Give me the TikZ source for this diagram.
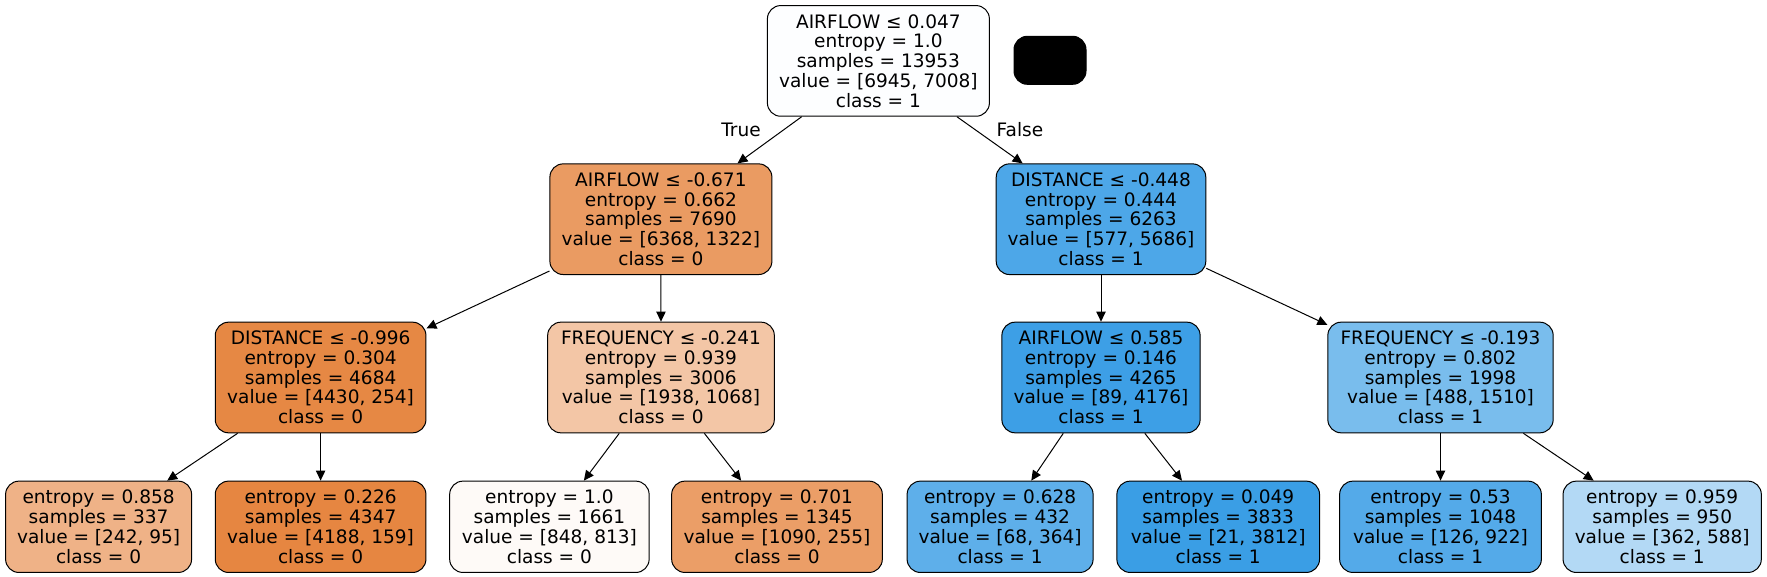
\documentclass[tikz,border=0pt]{standalone}
\usepackage{fontspec}
\setmainfont{DejaVu Sans}
\usetikzlibrary{arrows.meta}
\definecolor{cR}{RGB}{253,254,255}
\definecolor{cA}{RGB}{234,155,98}
\definecolor{cB}{RGB}{77,167,232}
\definecolor{cC}{RGB}{230,136,68}
\definecolor{cD}{RGB}{243,198,166}
\definecolor{cE}{RGB}{61,159,230}
\definecolor{cF}{RGB}{121,189,237}
\definecolor{cL1}{RGB}{239,178,135}
\definecolor{cL2}{RGB}{230,134,65}
\definecolor{cL3}{RGB}{254,250,247}
\definecolor{cL4}{RGB}{235,158,103}
\definecolor{cL5}{RGB}{94,175,234}
\definecolor{cL6}{RGB}{58,158,229}
\definecolor{cL7}{RGB}{84,170,233}
\definecolor{cL8}{RGB}{179,217,245}
\tikzset{
  tn/.style={draw, rounded corners=10pt, line width=0.75pt, inner sep=0pt, align=center,
    font=\fontsize{13.9}{14.8}\selectfont, minimum height=83pt},
  lf/.style={tn, minimum height=68.5pt},
  ed/.style={-{Triangle[length=7.5pt,width=7pt]}, line width=0.75pt},
  el/.style={font=\fontsize{13.9}{14.8}\selectfont, inner sep=0pt}
}
\begin{document}
\begin{tikzpicture}[x=0.75pt,y=-0.75pt]
\useasboundingbox (0,0) rectangle (1767,577);
% level 0
\node[tn, fill=cR, minimum width=166.5pt] (r) at (878.4,60.9)
  {AIRFLOW ≤ 0.047\\entropy = 1.0\\samples = 13953\\value = [6945, 7008]\\class = 1};
\node[draw, fill=black, rounded corners=10pt, line width=0.75pt, minimum width=54pt, minimum height=36pt, inner sep=0pt] (bk) at (1050,60.3) {};
% level 1
\node[tn, fill=cA, minimum width=166.5pt] (a) at (660.9,219.2)
  {AIRFLOW ≤ -0.671\\entropy = 0.662\\samples = 7690\\value = [6368, 1322]\\class = 0};
\node[tn, fill=cB, minimum width=157.2pt] (b) at (1101,219.2)
  {DISTANCE ≤ -0.448\\entropy = 0.444\\samples = 6263\\value = [577, 5686]\\class = 1};
% level 2
\node[tn, fill=cC, minimum width=158pt] (c) at (320.6,377.5)
  {DISTANCE ≤ -0.996\\entropy = 0.304\\samples = 4684\\value = [4430, 254]\\class = 0};
\node[tn, fill=cD, minimum width=170pt] (d) at (661,377.5)
  {FREQUENCY ≤ -0.241\\entropy = 0.939\\samples = 3006\\value = [1938, 1068]\\class = 0};
\node[tn, fill=cE, minimum width=148.7pt] (e) at (1101,377.5)
  {AIRFLOW ≤ 0.585\\entropy = 0.146\\samples = 4265\\value = [89, 4176]\\class = 1};
\node[tn, fill=cF, minimum width=169pt] (f) at (1440.5,377.5)
  {FREQUENCY ≤ -0.193\\entropy = 0.802\\samples = 1998\\value = [488, 1510]\\class = 1};
% leaves
\node[lf, fill=cL1, minimum width=139.5pt] (l1) at (98.6,526.8)
  {entropy = 0.858\\samples = 337\\value = [242, 95]\\class = 0};
\node[lf, fill=cL2, minimum width=158pt] (l2) at (320.6,526.8)
  {entropy = 0.226\\samples = 4347\\value = [4188, 159]\\class = 0};
\node[lf, fill=cL3, minimum width=149.6pt] (l3) at (549.4,526.8)
  {entropy = 1.0\\samples = 1661\\value = [848, 813]\\class = 0};
\node[lf, fill=cL4, minimum width=158pt] (l4) at (777,526.8)
  {entropy = 0.701\\samples = 1345\\value = [1090, 255]\\class = 0};
\node[lf, fill=cL5, minimum width=139.5pt] (l5) at (1000.1,526.8)
  {entropy = 0.628\\samples = 432\\value = [68, 364]\\class = 1};
\node[lf, fill=cL6, minimum width=152pt] (l6) at (1218.2,526.8)
  {entropy = 0.049\\samples = 3833\\value = [21, 3812]\\class = 1};
\node[lf, fill=cL7, minimum width=151.3pt] (l7) at (1440.5,526.8)
  {entropy = 0.53\\samples = 1048\\value = [126, 922]\\class = 1};
\node[lf, fill=cL8, minimum width=148.7pt] (l8) at (1662.2,526.8)
  {entropy = 0.959\\samples = 950\\value = [362, 588]\\class = 1};
% edges
\draw[ed] (r) -- (a);
\draw[ed] (r) -- (b);
\draw[ed] (a) -- (c);
\draw[ed] (a) -- (d);
\draw[ed] (b) -- (e);
\draw[ed] (b) -- (f);
\draw[ed] (c) -- (l1);
\draw[ed] (c) -- (l2);
\draw[ed] (d) -- (l3);
\draw[ed] (d) -- (l4);
\draw[ed] (e) -- (l5);
\draw[ed] (e) -- (l6);
\draw[ed] (f) -- (l7);
\draw[ed] (f) -- (l8);
% edge labels
\node[el] (tl) at (741,130) {True};
\node[el] (fl) at (1020,130) {False};
\end{tikzpicture}
\end{document}
